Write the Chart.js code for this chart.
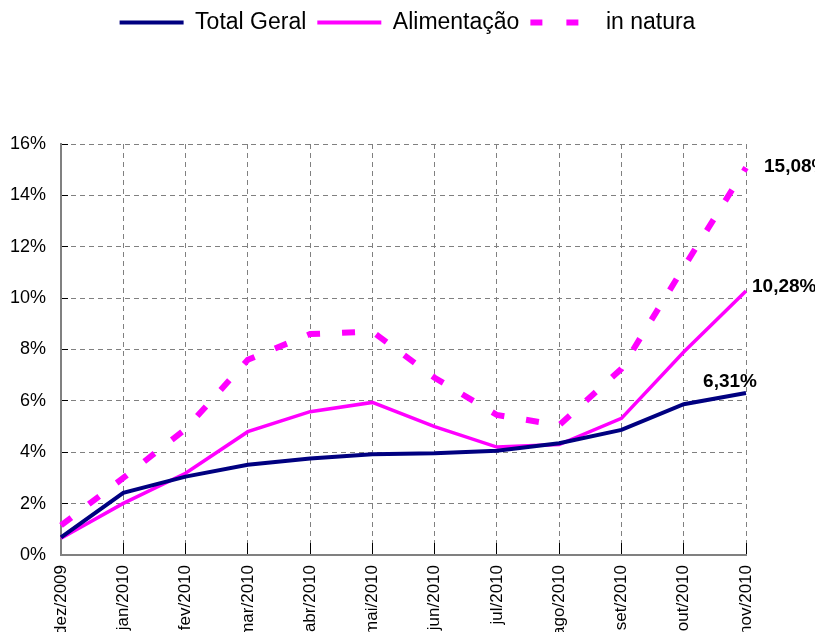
<!DOCTYPE html>
<html>
<head>
<meta charset="utf-8">
<script src="https://cdn.jsdelivr.net/npm/chart.js@4.4.1/dist/chart.umd.min.js"></script>
<style>
  html, body { margin: 0; padding: 0; background: #fff; }
  #wrap { width: 815px; height: 632px; }
</style>
</head>
<body>
<div id="wrap"><canvas id="myChart" width="815" height="632"></canvas></div>
<script>
const FONT = 'Arial, "Liberation Sans", sans-serif';

// categories and series (% accumulated)
const months = ['dez/2009', 'jan/2010', 'fev/2010', 'mar/2010', 'abr/2010', 'mai/2010',
  'jun/2010', 'jul/2010', 'ago/2010', 'set/2010', 'out/2010', 'nov/2010'];
const totalGeral = [0.69, 2.42, 3.05, 3.51, 3.76, 3.92, 3.96, 4.06, 4.35, 4.87, 5.87, 6.31];
const alimentacao = [0.65, 2.01, 3.18, 4.80, 5.58, 5.94, 5.00, 4.20, 4.30, 5.32, 7.90, 10.28];
const inNatura = [1.15, 3.00, 4.90, 7.60, 8.60, 8.70, 6.90, 5.45, 5.05, 7.25, 11.20, 15.08];
const yTicks = [0, 2, 4, 6, 8, 10, 12, 14, 16];

// label offsets for the last point of each series
const endLabelPos = [
  { dx: -16, dy: -11, align: 'center' },
  { dx: 6, dy: -4, align: 'left' },
  { dx: 18, dy: -1, align: 'left' }
];

const endLabels = {
  id: 'endLabels',
  afterDatasetsDraw(chart) {
    const ctx = chart.ctx;
    ctx.save();
    ctx.font = 'bold 19px ' + FONT;
    ctx.fillStyle = '#000';
    ctx.textBaseline = 'middle';
    chart.data.datasets.forEach((ds, i) => {
      const meta = chart.getDatasetMeta(i);
      const pt = meta.data[meta.data.length - 1];
      const v = ds.data[ds.data.length - 1];
      const p = endLabelPos[i];
      ctx.textAlign = p.align;
      ctx.fillText(v.toFixed(2).replace('.', ',') + '%', pt.x + p.dx, pt.y + p.dy);
    });
    ctx.restore();
  }
};

// push the plot area down under the legend
const legendGap = {
  id: 'legendGap',
  beforeInit(chart) {
    const fit = chart.legend.fit;
    chart.legend.fit = function () {
      fit.bind(chart.legend)();
      this.height = 144;
    };
  }
};

const data = {
  labels: months,
  datasets: [
    {
      label: 'Total Geral',
      data: totalGeral,
      borderColor: '#000080',
      backgroundColor: '#000080',
      borderWidth: 4,
      pointRadius: 0,
      tension: 0
    },
    {
      label: 'Alimentação',
      data: alimentacao,
      borderColor: '#ff00ff',
      backgroundColor: '#ff00ff',
      borderWidth: 3.5,
      pointRadius: 0,
      tension: 0
    },
    {
      label: 'in natura',
      data: inNatura,
      borderColor: '#ff00ff',
      backgroundColor: '#ff00ff',
      borderWidth: 6,
      borderDash: [13, 22],
      borderCapStyle: 'butt',
      pointRadius: 0,
      tension: 0
    }
  ]
};

const config = {
  type: 'line',
  data: data,
  options: {
    responsive: false,
    animation: false,
    layout: { padding: { left: 0, right: 0, top: 0, bottom: 0 } },
    plugins: {
      tooltip: { enabled: false },
      legend: {
        position: 'top',
        labels: {
          color: '#000',
          font: { family: FONT, size: 23 },
          usePointStyle: true,
          pointStyleWidth: 64,
          padding: 11,
          generateLabels(chart) {
            return chart.data.datasets.map((ds, i) => ({
              text: ds.label,
              fillStyle: ds.borderColor,
              strokeStyle: ds.borderColor,
              lineWidth: i === 2 ? 6 : 4,
              lineDash: i === 2 ? [12, 24] : [],
              lineCap: 'butt',
              pointStyle: 'line',
              fontColor: '#000',
              hidden: false,
              datasetIndex: i
            }));
          }
        }
      }
    },
    scales: {
      x: {
        afterFit(s) { s.height = 77; },
        grid: {
          color: '#808080',
          lineWidth: 1,
          tickLength: -12,
          tickColor: '#000',
          tickBorderDash: []
        },
        border: { display: true, color: '#808080', width: 2, dash: [5, 4] },
        ticks: {
          color: '#000',
          font: { family: FONT, size: 17 },
          maxRotation: 90,
          minRotation: 90,
          autoSkip: false,
          padding: 22
        }
      },
      y: {
        min: 0,
        max: 16,
        afterFit(s) { s.width = 61; },
        afterBuildTicks(s) { s.ticks = yTicks.map(v => ({ value: v })); },
        grid: {
          color: '#808080',
          lineWidth: 1,
          tickLength: -7,
          tickColor: '#000',
          tickBorderDash: []
        },
        border: { display: true, color: '#808080', width: 2, dash: [5, 4] },
        ticks: {
          color: '#000',
          font: { family: FONT, size: 18 },
          padding: 22,
          callback: v => v + '%'
        }
      },
      // empty right-hand strip, keeps room for the end labels
      yRight: {
        position: 'right',
        min: 0,
        max: 16,
        afterFit(s) { s.width = 69; },
        grid: { display: false, drawTicks: false },
        border: { display: false },
        ticks: { display: false }
      }
    }
  },
  plugins: [endLabels, legendGap]
};

const myChart = new Chart(document.getElementById('myChart'), config);
</script>
</body>
</html>
